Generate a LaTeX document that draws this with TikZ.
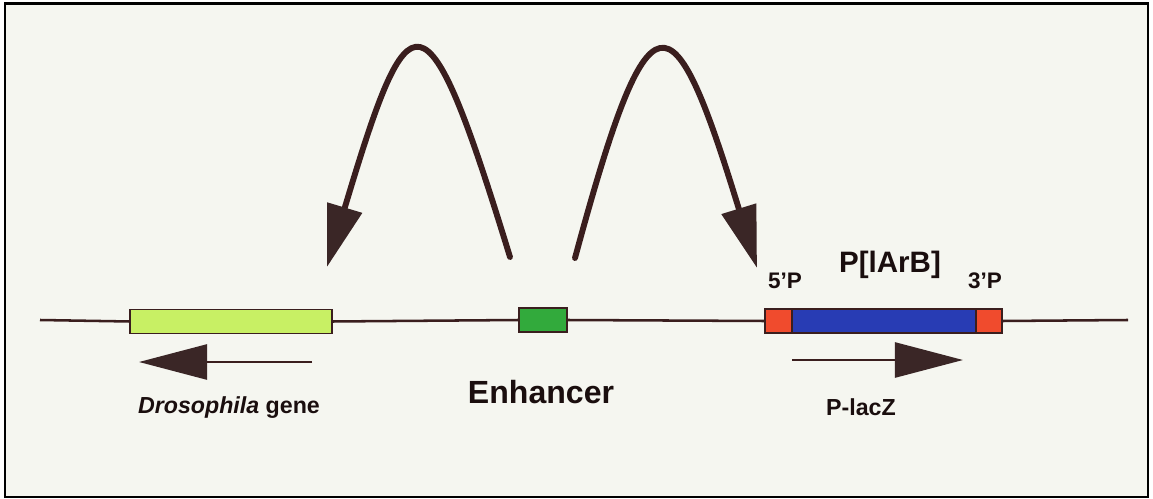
\documentclass[tikz,border=0pt]{standalone}
\usepackage{fontspec}
\setmainfont{Liberation Sans}
\usetikzlibrary{arrows.meta}

\definecolor{paper}{RGB}{245,246,240}
\definecolor{dnaline}{RGB}{58,30,30}
\definecolor{headfill}{RGB}{58,38,38}
\definecolor{labelink}{RGB}{26,14,14}
\definecolor{genelime}{RGB}{200,240,100}
\definecolor{enhgreen}{RGB}{50,170,60}
\definecolor{lacblue}{RGB}{40,60,180}
\definecolor{pendred}{RGB}{240,75,45}

\begin{document}
\begin{tikzpicture}[x=0.025cm, y=-0.025cm,
    dna/.style={draw=dnaline, line width=1.8pt},
    exon/.style={draw=dnaline, line width=1.2pt, inner sep=0pt, outer sep=0pt, minimum height=0.6cm},
    lbl/.style={anchor=base, inner sep=0pt, text=labelink},
    sense/.style={draw=dnaline, line width=1.8pt,
      -{Triangle[length=1.7cm, width=0.875cm, color=headfill]}},
    reach/.style={draw=dnaline, line width=4.2pt, line cap=round,
      -{Triangle[length=1.55cm, width=0.875cm, color=headfill]}}]

  % page and frame
  \useasboundingbox (0,0) rectangle (1153,499);
  \fill[white] (0,0) rectangle (1153,499);
  \draw[black, line width=2.1pt, fill=paper] (5,3.5) rectangle (1148,497);

  % genes on the chromosome
  \node[exon, fill=genelime, minimum width=5.05cm] (gene) at (231,321.5) {};
  \node[exon, fill=enhgreen, minimum width=1.2cm] (enh) at (543,320) {};
  \node[exon, fill=lacblue, minimum width=5.925cm] (pel) at (883.5,321) {};
  \node[exon, fill=pendred, minimum width=0.675cm, anchor=west] (five) at (pel.west) {};
  \node[exon, fill=pendred, minimum width=0.65cm, anchor=east] (three) at (pel.east) {};

  % chromosome line
  \coordinate (chrL) at (40,320);
  \coordinate (chrR) at (1128,320);
  \draw[dna] (chrL) -- (gene.west);
  \draw[dna] (gene.east) -- (enh.west);
  \draw[dna] (enh.east) -- (pel.west);
  \draw[dna] (pel.east) -- (chrR);

  % direction of transcription
  \coordinate (g1) at (312,362);
  \coordinate (g2) at (139,362);
  \coordinate (z1) at (792,360);
  \coordinate (z2) at (963,360);
  \draw[sense] (g1) -- (g2);
  \draw[sense] (z1) -- (z2);

  % enhancer acting on both promoters
  \coordinate (e1) at (510,257);
  \coordinate (t1) at (327,267);
  \coordinate (e2) at (575,258);
  \coordinate (t2) at (757,268);
  \draw[reach] (e1) .. controls (425,-20) and (410,-10) .. (t1);
  \draw[reach] (e2) .. controls (650,-19) and (672,-9) .. (t2);

  % labels
  \node[lbl, font=\bfseries\fontsize{16.5}{19}\selectfont] (genetxt) at (229,413) {\itshape Drosophila\upshape\ gene};
  \node[lbl, font=\bfseries\fontsize{22.8}{26}\selectfont] (enhtxt) at (541,403) {Enhancer};
  \node[lbl, font=\bfseries\fontsize{16.5}{19}\selectfont] (lactxt) at (861,415) {P-lacZ};
  \node[lbl, font=\bfseries\fontsize{21}{24}\selectfont] (ptxt) at (890,272) {P[lArB]};
  \node[lbl, font=\bfseries\fontsize{16}{19}\selectfont] (fivetxt) at (785,288) {5'P};
  \node[lbl, font=\bfseries\fontsize{16}{19}\selectfont] (threetxt) at (985,288) {3'P};
\end{tikzpicture}
\end{document}
